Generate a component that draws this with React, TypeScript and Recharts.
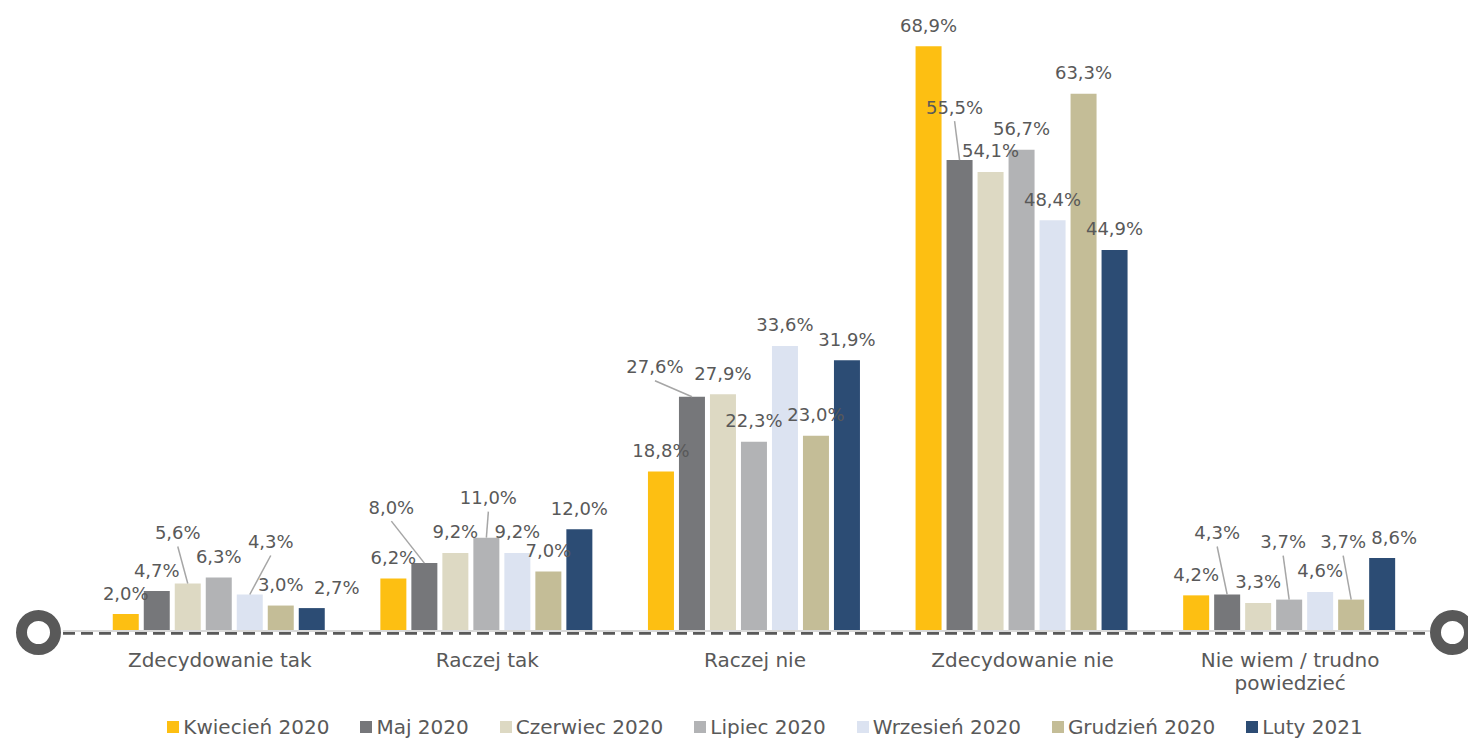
import React from 'react';
import { BarChart, Bar, XAxis, YAxis, Legend, LabelList, ReferenceLine, Text } from 'recharts';

const categories = ['Zdecydowanie tak', 'Raczej tak', 'Raczej nie', 'Zdecydowanie nie', 'Nie wiem / trudno powiedzieć'];

const seriesNames = ['Kwiecień 2020', 'Maj 2020', 'Czerwiec 2020', 'Lipiec 2020', 'Wrzesień 2020', 'Grudzień 2020', 'Luty 2021'];
const seriesColors = ['#FDBF12', '#76777A', '#DDD9C3', '#B2B3B5', '#DCE3F1', '#C4BD97', '#2C4C74'];

const kwiecien2020 = [2.0, 6.2, 18.8, 68.9, 4.2];
const maj2020 = [4.7, 8.0, 27.6, 55.5, 4.3];
const czerwiec2020 = [5.6, 9.2, 27.9, 54.1, 3.3];
const lipiec2020 = [6.3, 11.0, 22.3, 56.7, 3.7];
const wrzesien2020 = [4.3, 9.2, 33.6, 48.4, 4.6];
const grudzien2020 = [3.0, 7.0, 23.0, 63.3, 3.7];
const luty2021 = [2.7, 12.0, 31.9, 44.9, 8.6];

const seriesValues = [kwiecien2020, maj2020, czerwiec2020, lipiec2020, wrzesien2020, grudzien2020, luty2021];

// label displacement (dx, dy, leader line) per series / category
const labelShift: number[][][] = [
  [[0, 0, 0], [0, 0, 0], [0, 0, 0], [0, 0, 0], [0, 0, 0]],
  [[0, 0, 0], [-33, -35, 1], [-37, -9, 1], [-5, -32, 1], [-10, -41, 1]],
  [[-10, -30, 1], [0, 0, 0], [0, 0, 0], [0, 0, 0], [0, 0, 0]],
  [[0, 0, 0], [2, -19, 1], [0, 0, 0], [0, 0, 0], [-6, -37, 1]],
  [[21, -32, 1], [0, 0, 0], [0, 0, 0], [0, 0, 0], [0, 0, 0]],
  [[0, 0, 0], [0, 0, 0], [0, 0, 0], [0, 0, 0], [-8, -37, 1]],
  [[25, 0, 0], [0, 0, 0], [0, 0, 0], [0, 0, 0], [12, 0, 0]],
];

const rows = categories.map((name, ci) => {
  const row: Record<string, any> = { name };
  seriesNames.forEach((s, si) => {
    row[s] = seriesValues[si][ci];
  });
  return row;
});

const FONT = 'DejaVu Sans';
const TEXT = '#595959';

const fmt = (v: number) => v.toFixed(1).replace('.', ',') + '%';

const makeLabel = (si: number) => (props: any) => {
  const { x, y, width, value, index } = props;
  const cx = Number(x) + Number(width) / 2;
  const top = Number(y);
  const [dx, dy, leader] = labelShift[si][index] || [0, 0, 0];
  const lx = cx + dx;
  const ly = top - 21 + dy;
  return (
    <g>
      {leader ? (
        <line x1={lx} y1={ly + 14} x2={cx} y2={top} stroke="#A6A6A6" strokeWidth={1.5} />
      ) : null}
      <text x={lx} y={ly + 6.5} textAnchor="middle" fill={TEXT} fontSize={18} fontFamily={FONT}>
        {fmt(Number(value))}
      </text>
    </g>
  );
};

const CatTick = (props: any) => {
  const { x, y, payload } = props;
  return (
    <Text
      x={x}
      y={y + 22}
      width={230}
      textAnchor="middle"
      verticalAnchor="start"
      lineHeight={23}
      fill={TEXT}
      style={{ fontSize: 20, fontFamily: FONT }}
    >
      {payload.value}
    </Text>
  );
};

const AxisDecor = (props: any) => {
  const { x1, y1, x2, y2 } = props;
  return (
    <g>
      <line x1={x1} y1={y1 + 2} x2={x2} y2={y2 + 2} stroke="#595959" strokeWidth={3.5} strokeDasharray="12 6" />
      <circle cx={x1 - 24.5} cy={y1 + 1.5} r={17} fill="#fff" stroke="#595959" strokeWidth={11} />
      <circle cx={x2 + 22.5} cy={y2 + 1.5} r={17} fill="#fff" stroke="#595959" strokeWidth={11} />
    </g>
  );
};

const LegendContent = () => (
  <div
    style={{
      display: 'flex',
      justifyContent: 'center',
      alignItems: 'center',
      height: 24,
      gap: 31,
      paddingLeft: 62,
      fontFamily: FONT,
      fontSize: 20,
      color: TEXT,
      whiteSpace: 'nowrap',
    }}
  >
    {seriesNames.map((s, i) => (
      <div key={s} style={{ display: 'flex', alignItems: 'center' }}>
        <span style={{ display: 'inline-block', width: 12, height: 12, background: seriesColors[i], marginRight: 4 }} />
        <span>{s}</span>
      </div>
    ))}
  </div>
);

export default function App() {
  return (
    <div style={{ position: 'absolute', left: 0, top: 0, width: 1468, height: 739, background: '#fff', fontFamily: FONT }}>
      <BarChart
        width={1468}
        height={739}
        data={rows}
        margin={{ top: 37, right: 38, left: 63, bottom: 0 }}
        barCategoryGap="10%"
        barGap={5}
      >
        <XAxis
          dataKey="name"
          padding={{ left: 23, right: 6 }}
          axisLine={{ stroke: '#D9D9D9', strokeWidth: 2 }}
          tickLine={false}
          tickSize={0}
          tickMargin={0}
          height={84}
          interval={0}
          tick={CatTick}
        />
        <YAxis hide domain={[0, 70]} />
        {seriesNames.map((s, si) => (
          <Bar key={s} dataKey={s} fill={seriesColors[si]} isAnimationActive={false}>
            <LabelList dataKey={s} content={makeLabel(si)} />
          </Bar>
        ))}
        <ReferenceLine y={0} shape={AxisDecor} />
        <Legend
          verticalAlign="bottom"
          wrapperStyle={{ left: 0, width: 1468 }}
          content={LegendContent}
        />
      </BarChart>
    </div>
  );
}
